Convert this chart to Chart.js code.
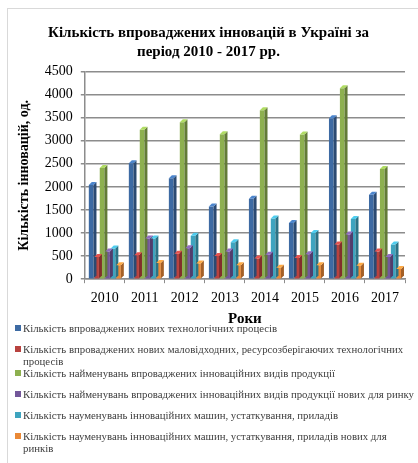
<!DOCTYPE html>
<html>
<head>
<meta charset="utf-8">
<script src="https://cdn.jsdelivr.net/npm/chart.js@4/dist/chart.umd.min.js"></script>
<style>
  body { margin: 0; background: #fff; }
  #frame { position: absolute; left: 7px; top: 8px; width: 440px; height: 470px; border: 1px solid #d9d9d9; }
  #wrap { position: absolute; left: 0; top: 0; width: 418px; height: 328px; }
  #legend { position: absolute; left: 15px; top: 322px; width: 401px; font: 10.8px "Liberation Serif", serif; color: #404040; }
  .item { display: flex; align-items: flex-start; min-height: 21px; line-height: 12px; }
  .box { width: 6px; height: 6px; margin: 3px 2px 0 0; flex: none; }
</style>
</head>
<body>
<div id="frame"></div>
<div id="wrap"><canvas id="myChart"></canvas></div>
<div id="legend"></div>
<script>
// DATA
const years = ["2010", "2011", "2012", "2013", "2014", "2015", "2016", "2017"];
const techProcesses = [2043, 2510, 2188, 1576, 1743, 1217, 3489, 1831];
const lowWasteProcesses = [479, 517, 554, 500, 447, 458, 750, 600];
const innovProducts = [2408, 3238, 3403, 3138, 3661, 3136, 4139, 2387];
const newMarketProducts = [600, 880, 670, 600, 530, 540, 970, 480];
const innovMachines = [663, 880, 942, 800, 1314, 1000, 1305, 750];
const newMarketMachines = [300, 350, 340, 300, 250, 300, 290, 220];
const seriesNames = [
  "Кількість впроваджених нових технологічних процесів",
  "Кількість впроваджених нових маловідходних, ресурсозберігаючих технологічних процесів",
  "Кількість найменувань впроваджених інноваційних видів продукції",
  "Кількість найменувань впроваджених інноваційних видів продукції нових для ринку",
  "Кількість науменувань інноваційних машин, устаткування, приладів",
  "Кількість науменувань інноваційних машин, устаткування, приладів нових для ринків"
];
const barColors = ["#3d6aa3", "#b8423f", "#8db04f", "#73579a", "#3ea4bf", "#ea8936"];

const serif = "'Liberation Serif', 'Times New Roman', serif";

// fake 3D faces on each bar
const bars3d = {
  id: "bars3d",
  afterDatasetsDraw(chart) {
    const ctx = chart.ctx;
    const d = 3;
    chart.data.datasets.forEach((ds, i) => {
      chart.getDatasetMeta(i).data.forEach(bar => {
        const l = bar.x - bar.width / 2, r = bar.x + bar.width / 2;
        ctx.save();
        ctx.fillStyle = shade(ds.backgroundColor, 0.7);
        ctx.beginPath();
        ctx.moveTo(r, bar.y); ctx.lineTo(r + d, bar.y - d);
        ctx.lineTo(r + d, bar.base - d); ctx.lineTo(r, bar.base);
        ctx.closePath(); ctx.fill();
        ctx.fillStyle = shade(ds.backgroundColor, 1.25);
        ctx.beginPath();
        ctx.moveTo(l, bar.y); ctx.lineTo(r, bar.y);
        ctx.lineTo(r + d, bar.y - d); ctx.lineTo(l + d, bar.y - d);
        ctx.closePath(); ctx.fill();
        ctx.restore();
      });
    });
  }
};

function shade(hex, k) {
  const n = parseInt(hex.slice(1), 16);
  const c = [n >> 16, (n >> 8) & 255, n & 255].map(v => Math.min(255, Math.round(v * k)));
  return "rgb(" + c.join(",") + ")";
}

const allSeries = [techProcesses, lowWasteProcesses, innovProducts, newMarketProducts, innovMachines, newMarketMachines];

const chart = new Chart("myChart", {
  type: "bar",
  data: {
    labels: years,
    datasets: allSeries.map((vals, i) => ({
      label: seriesNames[i],
      data: vals,
      backgroundColor: barColors[i],
      barPercentage: 0.85,
      categoryPercentage: 0.82
    }))
  },
  options: {
    responsive: true,
    maintainAspectRatio: false,
    animation: false,
    layout: { padding: { left: 12, right: 13, top: 24, bottom: 0 } },
    plugins: {
      legend: { display: false },
      tooltip: { enabled: false },
      title: {
        display: true,
        text: ["Кількість впроваджених інновацій в Україні за", "період 2010 - 2017 рр."],
        color: "#000",
        font: { family: serif, size: 15, weight: "bold", lineHeight: 1.25 },
        padding: { top: 0, bottom: 10 }
      }
    },
    scales: {
      x: {
        grid: { display: true, drawOnChartArea: false, offset: true, color: "#8c8c8c", tickLength: 4 },
        border: { color: "#8c8c8c", width: 1.5 },
        ticks: { color: "#000", font: { family: serif, size: 14 }, padding: 7 },
        title: { display: true, text: "Роки", color: "#000", font: { family: serif, size: 15, weight: "bold" }, padding: { top: -4, bottom: 0 } }
      },
      y: {
        min: 0,
        max: 4500,
        ticks: { stepSize: 500, color: "#000", font: { family: serif, size: 14 }, padding: 8, callback: v => String(v) },
        grid: { color: "#8c8c8c", lineWidth: 1.5, tickLength: 4 },
        border: { color: "#8c8c8c", width: 1.5 },
        title: { display: true, text: "Кількість інновацій, од.", color: "#000", font: { family: serif, size: 14, weight: "bold" }, padding: { bottom: 4 } }
      }
    }
  },
  plugins: [bars3d]
});

// legend built from the chart's datasets
const legendEl = document.getElementById("legend");
chart.data.datasets.forEach(ds => {
  const item = document.createElement("div");
  item.className = "item";
  const box = document.createElement("span");
  box.className = "box";
  box.style.background = ds.backgroundColor;
  const txt = document.createElement("span");
  txt.textContent = ds.label;
  item.appendChild(box);
  item.appendChild(txt);
  legendEl.appendChild(item);
});
</script>
</body>
</html>
